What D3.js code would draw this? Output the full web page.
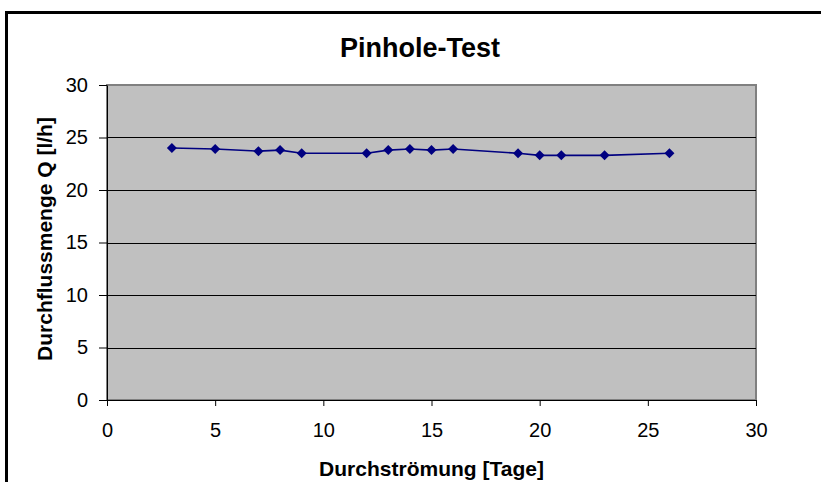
<!DOCTYPE html>
<html>
<head>
<meta charset="utf-8">
<script src="https://cdn.jsdelivr.net/npm/d3@7"></script>
<style>
  body { margin:0; background:#fff; }
  svg { display:block; font-family:"Liberation Sans", Arial, sans-serif; }
  .axis path, .axis line { stroke:#000; }
  .axis text { font-size:20px; fill:#000; font-family:"Liberation Sans", Arial, sans-serif; }
</style>
</head>
<body>
<div id="chart"></div>
<script>
// Pinhole-Test: Durchflussmenge über Durchströmungstage
const days  = [3, 5, 7, 8, 9, 12, 13, 14, 15, 16, 19, 20, 21, 23, 26];
const flow  = [24.0, 23.9, 23.7, 23.8, 23.5, 23.5, 23.8, 23.9, 23.8, 23.9, 23.5, 23.3, 23.3, 23.3, 23.5];
const xTicks = [0, 5, 10, 15, 20, 25, 30];
const yTicks = [0, 5, 10, 15, 20, 25, 30];

(function() {
    const totalW = 821, totalH = 482;
    const margin = { top:85, right:65, bottom:82, left:107 };
    const W = totalW - margin.left - margin.right, H = totalH - margin.top - margin.bottom;
    const data = days.map((d,i) => ({ day:d, q:flow[i] }));

    const root = d3.select("#chart").append("svg").attr("width", totalW).attr("height", totalH);

    // outer chart frame (runs off the right/bottom edge like the source)
    root.append("rect").attr("x",6.5).attr("y",12.5).attr("width",totalW+10).attr("height",totalH+10)
        .attr("fill","#fff").attr("stroke","#000").attr("stroke-width",3);

    const svg = root.append("g").attr("transform", `translate(${margin.left},${margin.top})`);

    const x = d3.scaleLinear().domain([0,30]).range([0,W]);
    const y = d3.scaleLinear().domain([0,30]).range([H,0]);

    svg.append("rect").attr("width",W).attr("height",H).attr("fill","#c0c0c0")
        .attr("stroke","#808080").attr("stroke-width",2);

    // horizontal gridlines
    svg.append("g").selectAll("line").data(yTicks.filter(t => t>0 && t<30)).enter().append("line")
        .attr("x1",0).attr("x2",W).attr("y1",d=>Math.round(y(d))+0.5).attr("y2",d=>Math.round(y(d))+0.5)
        .attr("stroke","#000").attr("stroke-width",1);

    svg.append("g").attr("class","axis").attr("transform",`translate(0,${H})`)
        .call(d3.axisBottom(x).tickValues(xTicks).tickSize(6).tickPadding(17).tickSizeOuter(0));
    svg.append("g").attr("class","axis")
        .call(d3.axisLeft(y).tickValues(yTicks).tickSize(8).tickPadding(11).tickSizeOuter(0));

    svg.append("path").datum(data).attr("fill","none").attr("stroke","#000080").attr("stroke-width",1.6)
        .attr("d", d3.line().x(d=>x(d.day)).y(d=>y(d.q)));

    svg.selectAll(".pt").data(data).enter().append("path").attr("class","pt")
        .attr("transform", d=>`translate(${x(d.day)},${y(d.q)})`)
        .attr("d","M0,-5L5,0L0,5L-5,0Z").attr("fill","#000080");

    root.append("text").attr("x",420).attr("y",57).attr("text-anchor","middle")
        .style("font-size","27px").style("font-weight","bold").text("Pinhole-Test");
    root.append("text").attr("x", margin.left + W/2).attr("y",476).attr("text-anchor","middle")
        .style("font-size","21px").style("font-weight","bold").text("Durchströmung [Tage]");
    root.append("text").attr("transform","rotate(-90)").attr("x",-239).attr("y",52)
        .attr("text-anchor","middle").style("font-size","21px").style("font-weight","bold")
        .text("Durchflussmenge Q [l/h]");
})();
</script>
</body>
</html>
